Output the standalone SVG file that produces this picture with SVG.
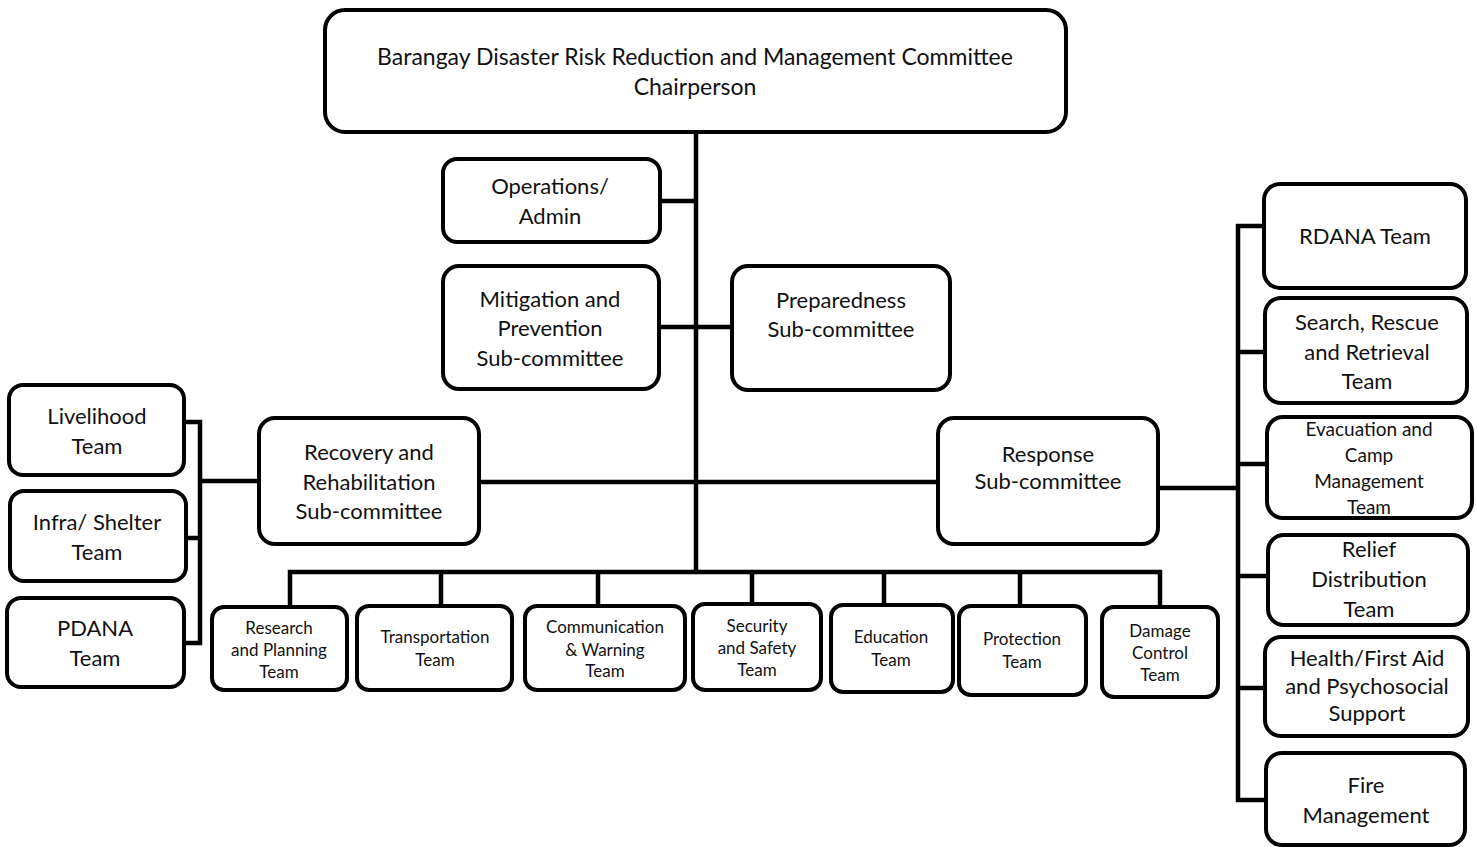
<svg xmlns="http://www.w3.org/2000/svg" width="1477" height="847" viewBox="0 0 1477 847">
<style>
.b{fill:#fff;stroke:#000;stroke-width:4}
.c{fill:none;stroke:#000;stroke-width:4.5}
text{font-family:Lato,"Open Sans","Liberation Sans",sans-serif;fill:#111;text-anchor:middle}
.t{font-size:23px}
.l{font-size:22px}
.m{font-size:19px}
.s{font-size:17px}
</style>
<rect width="1477" height="847" fill="#fff"/>
<g id="connectors">
<path class="c" d="M696 132V572"/>
<path class="c" d="M660 201H696"/>
<path class="c" d="M659 327H732"/>
<path class="c" d="M479 482H938"/>
<path class="c" d="M200 481H259"/>
<path class="c" d="M184 422H200V643H184M186 538H200"/>
<path class="c" d="M1158 488H1238"/>
<path class="c" d="M1264 226H1238V800H1266M1238 352H1265M1238 464H1267M1238 576H1268M1238 688H1265"/>
<path class="c" d="M290 607V572H1160V607M441 572V606M598 572V606M752 572V604M884 572V605M1020 572V606"/>
</g>
<g id="chair"><rect class="b" x="325" y="10" width="741" height="122" rx="20"/><text class="t" x="695" y="65">Barangay Disaster Risk Reduction and Management Committee</text><text class="t" x="695" y="95">Chairperson</text></g>
<g id="ops"><rect class="b" x="443" y="159" width="217" height="83" rx="14"/><text class="l" x="550" y="194">Operations/</text><text class="l" x="550" y="224">Admin</text></g>
<g id="mitigation"><rect class="b" x="443" y="266" width="216" height="123" rx="16"/><text class="l" x="550" y="307">Mitigation and</text><text class="l" x="550" y="336">Prevention</text><text class="l" x="550" y="366">Sub-committee</text></g>
<g id="preparedness"><rect class="b" x="732" y="266" width="218" height="124" rx="16"/><text class="l" x="841" y="308">Preparedness</text><text class="l" x="841" y="337">Sub-committee</text></g>
<g id="recovery"><rect class="b" x="259" y="418" width="220" height="126" rx="16"/><text class="l" x="369" y="460">Recovery and</text><text class="l" x="369" y="490">Rehabilitation</text><text class="l" x="369" y="519">Sub-committee</text></g>
<g id="response"><rect class="b" x="938" y="418" width="220" height="126" rx="16"/><text class="l" x="1048" y="462">Response</text><text class="l" x="1048" y="489">Sub-committee</text></g>
<g id="livelihood"><rect class="b" x="9" y="385" width="175" height="90" rx="14"/><text class="l" x="97" y="424">Livelihood</text><text class="l" x="97" y="454">Team</text></g>
<g id="infra"><rect class="b" x="10" y="491" width="176" height="90" rx="14"/><text class="l" x="97" y="530">Infra/ Shelter</text><text class="l" x="97" y="560">Team</text></g>
<g id="pdana"><rect class="b" x="7" y="598" width="177" height="89" rx="14"/><text class="l" x="95" y="636">PDANA</text><text class="l" x="95" y="666">Team</text></g>
<g id="research"><rect class="b" x="212" y="607" width="135" height="83" rx="12"/><text class="s" x="279" y="634">Research</text><text class="s" x="279" y="656">and Planning</text><text class="s" x="279" y="678">Team</text></g>
<g id="transport"><rect class="b" x="357" y="606" width="155" height="84" rx="12"/><text class="s" x="435" y="643">Transportation</text><text class="s" x="435" y="666">Team</text></g>
<g id="communication"><rect class="b" x="525" y="606" width="160" height="84" rx="12"/><text class="s" x="605" y="633">Communication</text><text class="s" x="605" y="656">&amp; Warning</text><text class="s" x="605" y="677">Team</text></g>
<g id="security"><rect class="b" x="693" y="604" width="128" height="86" rx="12"/><text class="s" x="757" y="632">Security</text><text class="s" x="757" y="654">and Safety</text><text class="s" x="757" y="676">Team</text></g>
<g id="education"><rect class="b" x="831" y="605" width="122" height="87" rx="12"/><text class="s" x="891" y="643">Education</text><text class="s" x="891" y="666">Team</text></g>
<g id="protection"><rect class="b" x="959" y="606" width="127" height="89" rx="12"/><text class="s" x="1022" y="645">Protection</text><text class="s" x="1022" y="668">Team</text></g>
<g id="damage"><rect class="b" x="1102" y="607" width="116" height="90" rx="12"/><text class="s" x="1160" y="637">Damage</text><text class="s" x="1160" y="659">Control</text><text class="s" x="1160" y="681">Team</text></g>
<g id="rdana"><rect class="b" x="1264" y="184" width="202" height="104" rx="16"/><text class="l" x="1365" y="244">RDANA Team</text></g>
<g id="search"><rect class="b" x="1265" y="298" width="202" height="105" rx="16"/><text class="l" x="1367" y="330">Search, Rescue</text><text class="l" x="1367" y="360">and Retrieval</text><text class="l" x="1367" y="389">Team</text></g>
<g id="evacuation"><rect class="b" x="1267" y="417" width="205" height="101" rx="16"/><text class="m" x="1369" y="436">Evacuation and</text><text class="m" x="1369" y="462">Camp</text><text class="m" x="1369" y="488">Management</text><text class="m" x="1369" y="514">Team</text></g>
<g id="relief"><rect class="b" x="1268" y="535" width="200" height="90" rx="16"/><text class="l" x="1369" y="557">Relief</text><text class="l" x="1369" y="587">Distribution</text><text class="l" x="1369" y="617">Team</text></g>
<g id="health"><rect class="b" x="1265" y="637" width="203" height="99" rx="16"/><text class="l" x="1367" y="666">Health/First Aid</text><text class="l" x="1367" y="694">and Psychosocial</text><text class="l" x="1367" y="721">Support</text></g>
<g id="fire"><rect class="b" x="1266" y="753" width="199" height="92" rx="16"/><text class="l" x="1366" y="793">Fire</text><text class="l" x="1366" y="823">Management</text></g>
</svg>
